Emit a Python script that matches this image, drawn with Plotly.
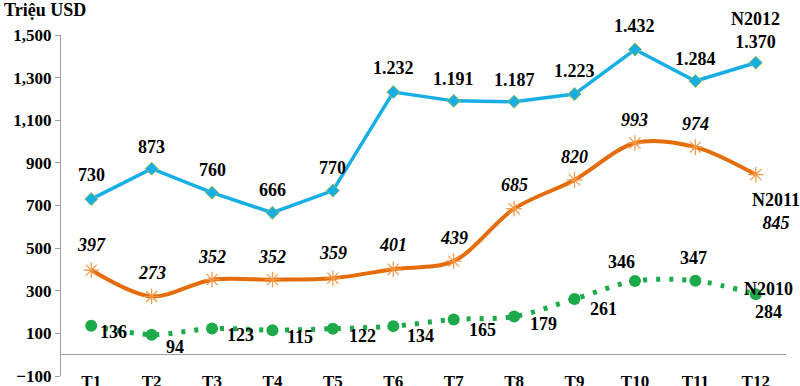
import plotly.graph_objects as go

months = ["T1", "T2", "T3", "T4", "T5", "T6", "T7", "T8", "T9", "T10", "T11", "T12"]
n2012 = [730, 873, 760, 666, 770, 1232, 1191, 1187, 1223, 1432, 1284, 1370]
n2011 = [397, 273, 352, 352, 359, 401, 439, 685, 820, 993, 974, 845]
n2010 = [136, 94, 123, 115, 122, 134, 165, 179, 261, 346, 347, 284]
y_ticks = [-100, 100, 300, 500, 700, 900, 1100, 1300, 1500]

# label offsets (px) : style only
off2012 = [(0, 24), (0, 22), (0, 23), (0, 23), (0, 23), (0, 24), (0, 22), (0, 22), (0, 23), (0, 23), (0, 22), (0, 32)]
off2011 = [(0, 25), (0, 24), (0, 23), (0, 23), (0, 25), (0, 24), (0, 23), (0, 24), (0, 23), (0, 23), (0, 23), (20, -37)]
off2010 = [(22, -6), (23, -12), (28, -7), (28, -7), (30, -7), (27, -10), (29, -10), (29, -7), (29, -10), (-13, 19), (-2, 23), (13, -6)]

FONT = "Liberation Serif"
BLUE = "#17AEE6"
ORANGE = "#E46C0A"
GREEN = "#1DAA4A"
AXIS = "#A0A0A0"

def fmt_dot(v):
    return f"{v:,}".replace(",", ".")

fig = go.Figure()

# transparent fill so the y zero line (category axis line) is always drawn
fig.add_trace(go.Scatter(x=months, y=n2010, mode="none", fill="tozeroy",
                         fillcolor="rgba(0,0,0,0)", showlegend=False, hoverinfo="skip"))

fig.add_trace(go.Scatter(
    x=months, y=n2010, mode="lines+markers", name="N2010",
    line=dict(color=GREEN, width=5, dash="4px,9px", shape="spline", smoothing=0.9),
    marker=dict(symbol="circle", size=12, color=GREEN),
))
fig.add_trace(go.Scatter(
    x=months, y=n2011, mode="lines+markers", name="N2011",
    line=dict(color=ORANGE, width=4, shape="spline", smoothing=0.9),
    marker=dict(symbol="asterisk-open", size=13, color="#F79646",
                line=dict(color="#F79646", width=1.2)),
))
fig.add_trace(go.Scatter(
    x=months, y=n2012, mode="lines+markers", name="N2012",
    line=dict(color=BLUE, width=3.5),
    marker=dict(symbol="diamond", size=10, color=BLUE,
                line=dict(color="#9BBB59", width=1)),
))

ann = []
lf = dict(family=FONT, size=18, color="black")
for i, m in enumerate(months):
    t = fmt_dot(n2012[i])
    if i == len(months) - 1:
        t = "N2012<br>" + t
    ann.append(dict(x=m, y=n2012[i], text="<b>" + t + "</b>", showarrow=False,
                    xshift=off2012[i][0], yshift=off2012[i][1], font=lf))
    t = "<i>" + str(n2011[i]) + "</i>"
    if i == len(months) - 1:
        t = "N2011<br>" + t
    ann.append(dict(x=m, y=n2011[i], text="<b>" + t + "</b>", showarrow=False,
                    xshift=off2011[i][0], yshift=off2011[i][1], font=lf))
    t = str(n2010[i])
    if i == len(months) - 1:
        t = "N2010<br>" + t
    ann.append(dict(x=m, y=n2010[i], text="<b>" + t + "</b>", showarrow=False,
                    xshift=off2010[i][0], yshift=off2010[i][1], font=lf))

ann.append(dict(xref="paper", yref="paper", x=-0.081, y=1.0, yshift=25,
                xanchor="left", yanchor="middle", showarrow=False,
                text="<b>Triệu USD</b>", font=dict(family=FONT, size=18, color="black")))

fig.update_layout(
    width=800, height=386,
    margin=dict(l=61, r=14, t=35, b=10, autoexpand=False),
    paper_bgcolor="white", plot_bgcolor="white",
    showlegend=False,
    annotations=ann,
    xaxis=dict(type="category", categoryorder="array", categoryarray=months,
               showline=False, ticks="", showgrid=False, zeroline=False,
               automargin=False,
               tickfont=dict(family=FONT, size=17, color="black", weight="bold"),
               ticklabelstandoff=-7, range=[-0.5, 11.5]),
    yaxis=dict(range=[-100, 1500], tickvals=y_ticks, tickformat=",d",
               showline=True, linecolor=AXIS, linewidth=1.2, automargin=False,
               ticks="outside", ticklen=5, tickcolor=AXIS, tickwidth=1.2,
               showgrid=False, zeroline=True, zerolinecolor=AXIS, zerolinewidth=1.2,
               tickfont=dict(family=FONT, size=17, color="black", weight="bold")),
)

fig.write_html("out.html", config={"displayModeBar": False},
               post_script="document.body.style.margin='0';document.body.style.overflow='hidden';")
